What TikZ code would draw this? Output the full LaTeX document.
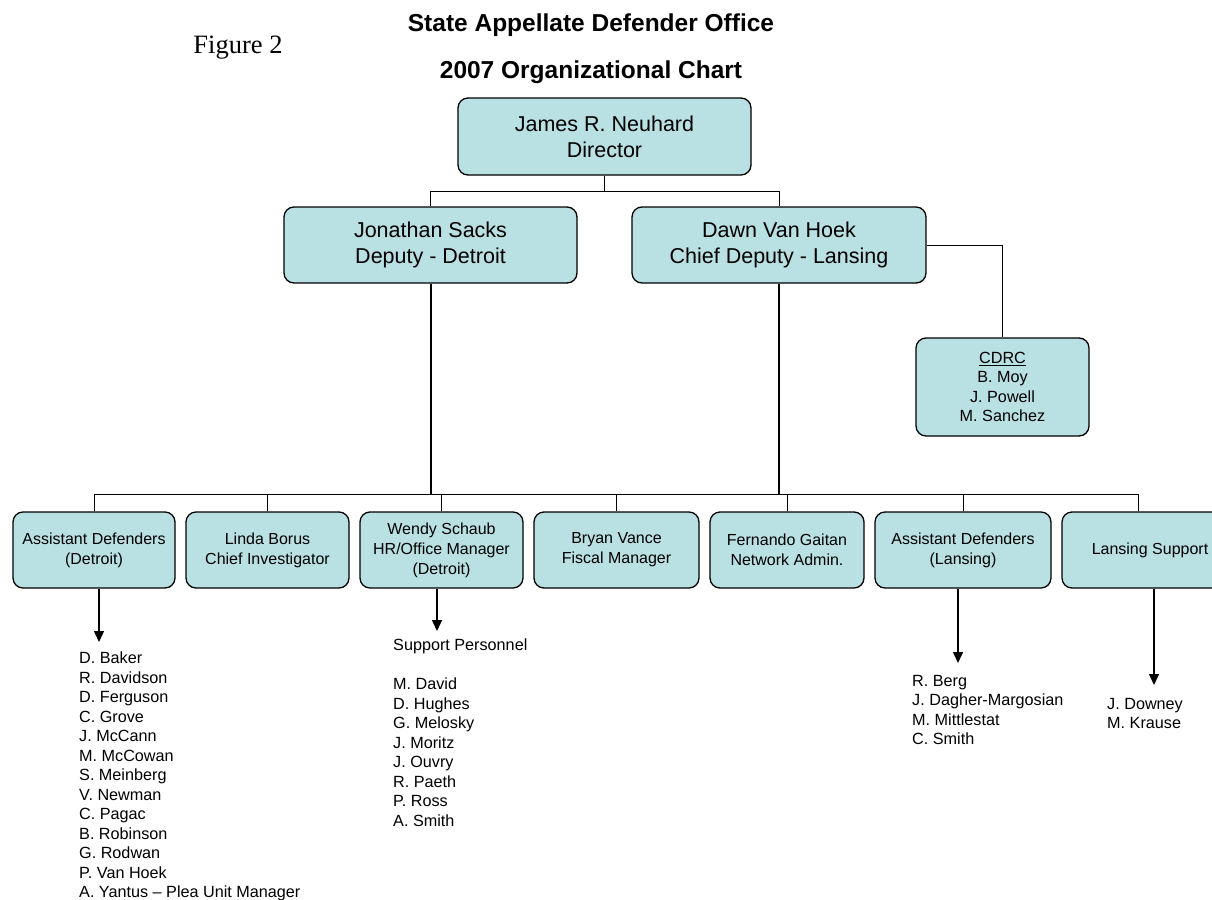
\documentclass[tikz,border=0pt]{standalone}
\usepackage{fontspec}
\setmainfont{Liberation Sans}
\newfontfamily\figfont{Liberation Serif}
\usetikzlibrary{arrows.meta}
\definecolor{unitback}{RGB}{185,224,227}

\tikzset{
  unit/.style={draw=black,fill=unitback,line width=1.3pt,rounded corners=10pt,
    inner sep=0pt,align=center,minimum height=76pt},
  chief/.style={unit,font=\fontsize{21.5}{26}\selectfont,minimum width=293pt},
  staff/.style={unit,font=\fontsize{16}{20}\selectfont,minimum width=163pt},
  names/.style={align=left,inner sep=0pt,anchor=north west,
    font=\fontsize{16.2}{19.5}\selectfont},
  link/.style={line width=1pt},
  stem/.style={line width=2pt},
  down/.style={line width=1.5pt,-{Triangle[length=11pt,width=10pt]}}
}

\begin{document}
\begin{tikzpicture}[x=1pt,y=-1pt]
\useasboundingbox (0,0) rectangle (1212,899);

% headings
\node[anchor=base,inner sep=0pt] (title) at (591,32)
  {\fontsize{24.5}{28}\selectfont\bfseries State Appellate Defender Office};
\node[anchor=base,inner sep=0pt] (subtitle) at (591,78)
  {\fontsize{24.5}{28}\selectfont\bfseries 2007 Organizational Chart};
\node[anchor=base,inner sep=0pt] (figure) at (238,53)
  {\figfont\fontsize{26.5}{30}\selectfont Figure 2};

% top of the chart
\node[chief,minimum height=77pt] (director) at (604.5,136.5) {James R. Neuhard\\Director};
\node[chief] (sacks) at (430.5,245) {Jonathan Sacks\\Deputy - Detroit};
\node[chief,minimum width=294pt] (vanhoek) at (779,245) {Dawn Van Hoek\\Chief Deputy - Lansing};
\node[unit,minimum width=173pt,minimum height=98pt,font=\fontsize{16.2}{19.3}\selectfont]
  (cdrc) at (1002.5,387) {\underline{CDRC}\\B. Moy\\J. Powell\\M. Sanchez};

\draw[link] (director.south) -- ++(0,16) -| (sacks.north);
\draw[link] (director.south) -- ++(0,16) -| (vanhoek.north);
\draw[link] (vanhoek.east) -| (cdrc.north);

% bottom row
\node[staff,minimum width=162pt] (adetroit) at (94,550) {Assistant Defenders\\(Detroit)};
\node[staff] (borus) at (267.5,550) {Linda Borus\\Chief Investigator};
\node[staff] (schaub) at (441.5,550) {Wendy Schaub\\HR/Office Manager\\(Detroit)};
\node[staff,minimum width=165pt] (vance) at (616.5,550) {Bryan Vance\\Fiscal Manager};
\node[staff,minimum width=154pt] (gaitan) at (787,550) {Fernando Gaitan\\Network Admin.};
\node[staff,minimum width=176pt] (alansing) at (963,550) {Assistant Defenders\\(Lansing)};
\node[staff,minimum width=176pt] (lsupport) at (1150,550) {Lansing Support};

\coordinate (sbus) at (430.5,494);
\coordinate (dbus) at (779,494);
\draw[stem] (sacks.south) -- (sbus);
\draw[stem] (vanhoek.south) -- (dbus);
\draw[link] (sbus) -| (adetroit.north);
\draw[link] (sbus) -| (borus.north);
\draw[link] (sbus) -| (schaub.north);
\draw[link] (sbus) -| (vance.north);
\draw[link] (dbus) -| (vance.north);
\draw[link] (dbus) -| (gaitan.north);
\draw[link] (dbus) -| (alansing.north);
\draw[link] (dbus) -| ([xshift=-12pt]lsupport.north);

% staff lists
\coordinate (tipA) at (99,642);
\coordinate (tipB) at (437,631);
\coordinate (tipC) at (958,663);
\coordinate (tipD) at (1154,685);
\draw[down] (tipA |- adetroit.south) -- (tipA);
\draw[down] (tipB |- schaub.south) -- (tipB);
\draw[down] (tipC |- alansing.south) -- (tipC);
\draw[down] (tipD |- lsupport.south) -- (tipD);

\node[names] (detlist) at (79,652) {D. Baker\\R. Davidson\\D. Ferguson\\C. Grove\\J. McCann\\M. McCowan\\S. Meinberg\\V. Newman\\C. Pagac\\B. Robinson\\G. Rodwan\\P. Van Hoek\\A. Yantus -- Plea Unit Manager};
\node[names] (suplist) at (393,639) {Support Personnel\\[19.5pt]M. David\\D. Hughes\\G. Melosky\\J. Moritz\\J. Ouvry\\R. Paeth\\P. Ross\\A. Smith};
\node[names] (lanlist) at (912,675) {R. Berg\\J. Dagher-Margosian\\M. Mittlestat\\C. Smith};
\node[names] (lsuplist) at (1107,698) {J. Downey\\M. Krause};
\end{tikzpicture}
\end{document}
